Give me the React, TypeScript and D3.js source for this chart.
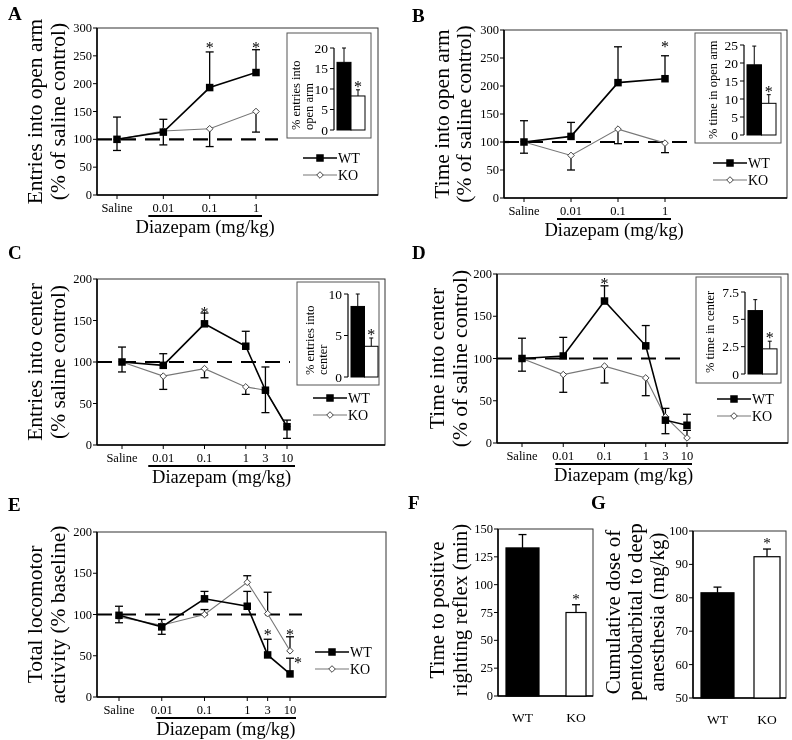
import React from "react";
import * as d3 from "d3";

const FONT = "Liberation Serif, DejaVu Serif, Times New Roman, serif";

// doses (Saline plotted at 0.001 on a log axis)
const dosesShort = [0.001, 0.01, 0.1, 1];
const doseLabelsShort = ["Saline", "0.01", "0.1", "1"];
const dosesLong = [0.001, 0.01, 0.1, 1, 3, 10];
const doseLabelsLong = ["Saline", "0.01", "0.1", "1", "3", "10"];

// Panel A
const aWT = [100, 113, 193, 220];
const aWTUp = [40, 23, 64, 41];
const aWTDown = [0, 0, 0, 0];
const aKO = [100, 115, 119, 150];
const aKOUp = [0, 0, 0, 0];
const aKODown = [20, 25, 32, 37];
const aStars = [{ dose: 0.1, value: 272 }, { dose: 1, value: 272 }];
const aInset = [16.5, 8.3];
const aInsetErr = [3.5, 1.5];
const aInsetTicks = [0, 5, 10, 15, 20];

// Panel B
const bWT = [100, 110, 206, 213];
const bWTUp = [38, 25, 64, 41];
const bWTDown = [0, 0, 0, 0];
const bKO = [100, 76, 123, 98];
const bKOUp = [0, 0, 0, 0];
const bKODown = [20, 26, 26, 17];
const bStars = [{ dose: 1, value: 277 }];
const bInset = [19.5, 8.8];
const bInsetErr = [5.2, 2.4];
const bInsetTicks = [0, 5, 10, 15, 20, 25];

// Panel C
const cWT = [100, 96, 146, 119, 66, 22];
const cWTUp = [18, 14, 13, 18, 28, 8];
const cWTDown = [0, 0, 0, 0, 27, 14];
const cKO = [100, 83, 92, 70, 66, 22];
const cKOUp = [0, 0, 0, 0, 0, 0];
const cKODown = [12, 16, 11, 9, 0, 0];
const cStars = [{ dose: 0.1, value: 164 }];
const cInset = [8.5, 3.7];
const cInsetErr = [1.5, 1.0];
const cInsetTicks = [0, 5, 10];

// Panel D
const dWT = [100, 103, 168, 115, 27, 21];
const dWTUp = [24, 22, 18, 24, 14, 13];
const dWTDown = [0, 0, 0, 0, 16, 0];
const dKO = [100, 81, 91, 77, 31, 6];
const dKOUp = [0, 0, 0, 0, 0, 9];
const dKODown = [15, 21, 20, 21, 0, 0];
const dStars = [{ dose: 0.1, value: 193 }];
const dInset = [5.8, 2.3];
const dInsetErr = [1.0, 0.7];
const dInsetTicks = [0, 2.5, 5, 7.5];

// Panel E
const eWT = [99, 85, 119, 110, 51, 28];
const eWTUp = [11, 0, 9, 18, 19, 19];
const eWTDown = [0, 9, 0, 0, 0, 0];
const eKO = [97, 87, 100, 139, 101, 56];
const eKOUp = [0, 7, 6, 8, 26, 17];
const eKODown = [7, 0, 0, 0, 0, 0];
const eStars = [
  { dose: 3, value: 80, dx: 0 },
  { dose: 10, value: 80, dx: 0 },
  { dose: 10, value: 46, dx: 8 },
];

// Panel F and G
const groups = ["WT", "KO"];
const fValues = [133, 75];
const fErr = [12, 7];
const fTicks = [0, 25, 50, 75, 100, 125, 150];
const gValues = [81.5, 92.3];
const gErr = [1.7, 2.3];
const gTicks = [50, 60, 70, 80, 90, 100];

type Star = { dose: number; value: number; dx?: number };

function Square({ cx, cy, s }: { cx: number; cy: number; s: number }) {
  return <rect x={cx - s / 2} y={cy - s / 2} width={s} height={s} fill="#000" />;
}
function Diamond({ cx, cy, r }: { cx: number; cy: number; r: number }) {
  return (
    <path
      d={`M${cx},${cy - r}L${cx + r},${cy}L${cx},${cy + r}L${cx - r},${cy}Z`}
      fill="#fff"
      stroke="#444"
      strokeWidth={1}
    />
  );
}

function ErrBars({ xs, ys, vals, up, down, y }: any) {
  const out: any[] = [];
  vals.forEach((v: number, i: number) => {
    const cx = xs[i];
    if (up[i] > 0) {
      const y2 = y(v + up[i]);
      out.push(<line key={"u" + i} x1={cx} x2={cx} y1={ys[i]} y2={y2} stroke="#000" strokeWidth={1.3} />);
      out.push(<line key={"uc" + i} x1={cx - 4} x2={cx + 4} y1={y2} y2={y2} stroke="#000" strokeWidth={1.3} />);
    }
    if (down[i] > 0) {
      const y2 = y(v - down[i]);
      out.push(<line key={"d" + i} x1={cx} x2={cx} y1={ys[i]} y2={y2} stroke="#000" strokeWidth={1.3} />);
      out.push(<line key={"dc" + i} x1={cx - 4} x2={cx + 4} y1={y2} y2={y2} stroke="#000" strokeWidth={1.3} />);
    }
  });
  return <g>{out}</g>;
}

function Inset(p: any) {
  const y = d3.scaleLinear().domain([0, p.max]).range([p.y0, p.y1]);
  const bw = p.bw;
  return (
    <g>
      <rect x={p.fx0} y={p.fy0} width={p.fx1 - p.fx0} height={p.fy1 - p.fy0} fill="#fff" stroke="#555" strokeWidth={1} />
      <line x1={p.ax} x2={p.ax} y1={y(0)} y2={y(p.max)} stroke="#000" strokeWidth={1.2} />
      {p.ticks.map((t: number) => (
        <g key={t}>
          <line x1={p.ax - 4} x2={p.ax} y1={y(t)} y2={y(t)} stroke="#000" strokeWidth={1} />
          <text x={p.ax - 6} y={y(t)} textAnchor="end" dominantBaseline="central" fontSize={13.5}>
            {t}
          </text>
        </g>
      ))}
      {p.values.map((v: number, i: number) => {
        const bx = p.ax + 3 + i * bw;
        const top = y(v);
        const et = y(v + p.err[i]);
        return (
          <g key={i}>
            <line x1={bx + bw / 2} x2={bx + bw / 2} y1={top} y2={et} stroke="#000" strokeWidth={1} />
            <line x1={bx + bw / 2 - 2} x2={bx + bw / 2 + 2} y1={et} y2={et} stroke="#000" strokeWidth={1} />
            <rect x={bx} y={top} width={bw} height={y(0) - top} fill={i === 0 ? "#000" : "#fff"} stroke="#000" strokeWidth={1} />
          </g>
        );
      })}
      <text x={p.ax + 3 + 1.5 * bw} y={y(p.values[1] + p.err[1]) + 2} textAnchor="middle" fontSize={16}>
        *
      </text>
      {p.title.map((t: string, i: number) => (
        <text
          key={i}
          transform={`translate(${p.tx + i * 12.5},${p.ty}) rotate(-90)`}
          textAnchor="start"
          dominantBaseline="central"
          fontSize={12.5}
        >
          {t}
        </text>
      ))}
    </g>
  );
}

function LinePanel(p: any) {
  const y = d3.scaleLinear().domain([0, p.yMax]).range([p.bottom, p.top]);
  const last = p.doses[p.doses.length - 1];
  const x = d3.scaleLog().domain([0.001, last]).range([p.salineX, p.lastX]);
  const yTicks = d3.range(0, p.yMax + 1, p.yStep);
  const xs = p.doses.map((d: number) => x(d));
  const wtY = p.wt.map((v: number) => y(v));
  const koY = p.ko.map((v: number) => y(v));
  const line = (vals: number[]) =>
    d3
      .line<number>()
      .x((_, i) => xs[i])
      .y((v) => y(v))(vals) as string;
  const ulStart = x(0.01) + p.ulOff[0];
  const ulEnd = x(last) + p.ulOff[1];
  return (
    <g>
      <text x={p.letterX} y={p.letterY} fontWeight="bold" fontSize={19}>
        {p.letter}
      </text>
      {p.titleLines.map((t: string, i: number) => (
        <text
          key={i}
          transform={`translate(${p.titleX[i]},${(p.top + p.bottom) / 2}) rotate(-90)`}
          textAnchor="middle"
          dominantBaseline="central"
          fontSize={21.5}
        >
          {t}
        </text>
      ))}
      <rect x={p.left} y={p.top} width={p.right - p.left} height={p.bottom - p.top} fill="none" stroke="#333" strokeWidth={1} />
      <line x1={p.left} x2={p.left} y1={p.top} y2={p.bottom} stroke="#000" strokeWidth={1.5} />
      <line x1={p.left} x2={p.right} y1={p.bottom} y2={p.bottom} stroke="#000" strokeWidth={1.5} />
      {yTicks.map((t: number) => (
        <g key={t}>
          <line x1={p.left - 4} x2={p.left} y1={y(t)} y2={y(t)} stroke="#000" strokeWidth={1} />
          <text x={p.left - 5} y={y(t)} textAnchor="end" dominantBaseline="central" fontSize={12.5}>
            {t}
          </text>
        </g>
      ))}
      {p.doses.map((d: number, i: number) => (
        <g key={i}>
          <line x1={x(d)} x2={x(d)} y1={p.bottom} y2={p.bottom + 4} stroke="#000" strokeWidth={1} />
          <text x={x(d)} y={p.bottom + 17} textAnchor="middle" fontSize={12.5}>
            {p.labels[i]}
          </text>
        </g>
      ))}
      <line x1={ulStart} x2={ulEnd} y1={p.bottom + 21} y2={p.bottom + 21} stroke="#000" strokeWidth={2.2} />
      <text x={(ulStart + ulEnd) / 2} y={p.bottom + 38} textAnchor="middle" fontSize={18.5}>
        Diazepam (mg/kg)
      </text>
      <line x1={p.left} x2={p.dashEnd} y1={y(100)} y2={y(100)} stroke="#000" strokeWidth={2.2} strokeDasharray="15,9" />
      <ErrBars xs={xs} ys={koY} vals={p.ko} up={p.koUp} down={p.koDown} y={y} />
      <ErrBars xs={xs} ys={wtY} vals={p.wt} up={p.wtUp} down={p.wtDown} y={y} />
      <path d={line(p.ko)} fill="none" stroke="#777" strokeWidth={1.1} />
      <path d={line(p.wt)} fill="none" stroke="#000" strokeWidth={1.6} />
      {p.ko.map((v: number, i: number) => (
        <Diamond key={i} cx={xs[i]} cy={koY[i]} r={3.3} />
      ))}
      {p.wt.map((v: number, i: number) => (
        <Square key={i} cx={xs[i]} cy={wtY[i]} s={7.5} />
      ))}
      {p.stars.map((s: Star, i: number) => (
        <text key={i} x={x(s.dose) + (s.dx || 0)} y={y(s.value) + 9} textAnchor="middle" fontSize={16}>
          *
        </text>
      ))}
      <g>
        <line x1={p.legX} x2={p.legX + 34} y1={p.legY} y2={p.legY} stroke="#000" strokeWidth={1.6} />
        <Square cx={p.legX + 17} cy={p.legY} s={7.5} />
        <text x={p.legX + 35} y={p.legY} dominantBaseline="central" fontSize={14}>
          WT
        </text>
        <line x1={p.legX} x2={p.legX + 34} y1={p.legY + 17} y2={p.legY + 17} stroke="#777" strokeWidth={1.1} />
        <Diamond cx={p.legX + 17} cy={p.legY + 17} r={3.3} />
        <text x={p.legX + 35} y={p.legY + 17} dominantBaseline="central" fontSize={14}>
          KO
        </text>
      </g>
      {p.inset && <Inset {...p.inset} />}
    </g>
  );
}

function BarPanel(p: any) {
  const y = d3.scaleLinear().domain([p.yMin, p.yMax]).range([p.bottom, p.top]);
  return (
    <g>
      <text x={p.letterX} y={p.letterY} fontWeight="bold" fontSize={19}>
        {p.letter}
      </text>
      {p.titleLines.map((t: string, i: number) => (
        <text
          key={i}
          transform={`translate(${p.titleX[i]},${p.titleY}) rotate(-90)`}
          textAnchor="middle"
          dominantBaseline="central"
          fontSize={21}
        >
          {t}
        </text>
      ))}
      <rect x={p.left} y={p.top} width={p.right - p.left} height={p.bottom - p.top} fill="none" stroke="#333" strokeWidth={1} />
      <line x1={p.left} x2={p.left} y1={p.top} y2={p.bottom} stroke="#000" strokeWidth={1.5} />
      <line x1={p.left} x2={p.right} y1={p.bottom} y2={p.bottom} stroke="#000" strokeWidth={1.5} />
      {p.ticks.map((t: number) => (
        <g key={t}>
          <line x1={p.left - 4} x2={p.left} y1={y(t)} y2={y(t)} stroke="#000" strokeWidth={1} />
          <text x={p.left - 5} y={y(t)} textAnchor="end" dominantBaseline="central" fontSize={12.5}>
            {t}
          </text>
        </g>
      ))}
      {p.values.map((v: number, i: number) => {
        const [bx0, bx1] = p.bars[i];
        const cx = (bx0 + bx1) / 2;
        const et = y(v + p.err[i]);
        return (
          <g key={i}>
            <line x1={cx} x2={cx} y1={y(v)} y2={et} stroke="#000" strokeWidth={1.3} />
            <line x1={cx - 4} x2={cx + 4} y1={et} y2={et} stroke="#000" strokeWidth={1.3} />
            <rect x={bx0} y={y(v)} width={bx1 - bx0} height={p.bottom - y(v)} fill={i === 0 ? "#000" : "#fff"} stroke="#000" strokeWidth={1.2} />
            <text x={cx} y={p.bottom + 26} textAnchor="middle" fontSize={13.5}>
              {groups[i]}
            </text>
          </g>
        );
      })}
      <text x={(p.bars[1][0] + p.bars[1][1]) / 2} y={y(p.values[1] + p.err[1]) - 1} textAnchor="middle" fontSize={15}>
        *
      </text>
    </g>
  );
}

export default function App() {
  return (
    <svg
      width={792}
      height={740}
      fontFamily={FONT}
      style={{ position: "absolute", left: 0, top: 0, fontFamily: FONT, willChange: "transform" }}
    >
      <rect width={792} height={740} fill="#fff" />
      <LinePanel
        letter="A" letterX={8} letterY={20}
        left={97} right={378} top={28} bottom={195}
        yMax={300} yStep={50}
        doses={dosesShort} labels={doseLabelsShort} salineX={117} lastX={256}
        wt={aWT} wtUp={aWTUp} wtDown={aWTDown} ko={aKO} koUp={aKOUp} koDown={aKODown}
        stars={aStars} dashEnd={278} ulOff={[-15, 6]}
        titleLines={["Entries into open arm", "(% of saline control)"]} titleX={[35, 58]}
        legX={303} legY={158}
        inset={{ fx0: 287, fx1: 371, fy0: 33, fy1: 138, ax: 334, y0: 130, y1: 48, max: 20, bw: 14,
          values: aInset, err: aInsetErr, ticks: aInsetTicks, title: ["% entries into", "open arm"], tx: 296, ty: 130 }}
      />
      <LinePanel
        letter="B" letterX={412} letterY={22}
        left={504} right={787} top={30} bottom={198}
        yMax={300} yStep={50}
        doses={dosesShort} labels={doseLabelsShort} salineX={524} lastX={665}
        wt={bWT} wtUp={bWTUp} wtDown={bWTDown} ko={bKO} koUp={bKOUp} koDown={bKODown}
        stars={bStars} dashEnd={687} ulOff={[-14, 6]}
        titleLines={["Time into open arm", "(% of saline control)"]} titleX={[442, 464]}
        legX={713} legY={163}
        inset={{ fx0: 695, fx1: 781, fy0: 33, fy1: 143, ax: 744, y0: 135, y1: 45, max: 25, bw: 14.5,
          values: bInset, err: bInsetErr, ticks: bInsetTicks, title: ["% time in open arm"], tx: 713, ty: 139 }}
      />
      <LinePanel
        letter="C" letterX={8} letterY={259}
        left={97} right={385} top={279} bottom={445}
        yMax={200} yStep={50}
        doses={dosesLong} labels={doseLabelsLong} salineX={122} lastX={287}
        wt={cWT} wtUp={cWTUp} wtDown={cWTDown} ko={cKO} koUp={cKOUp} koDown={cKODown}
        stars={cStars} dashEnd={290} ulOff={[-15, 8]}
        titleLines={["Entries into center", "(% saline control)"]} titleX={[35, 58]}
        legX={313} legY={398}
        inset={{ fx0: 297, fx1: 379, fy0: 282, fy1: 385, ax: 348, y0: 377, y1: 294, max: 10, bw: 13.5,
          values: cInset, err: cInsetErr, ticks: cInsetTicks, title: ["% entries into", "center"], tx: 310, ty: 375 }}
      />
      <LinePanel
        letter="D" letterX={412} letterY={259}
        left={497} right={788} top={274} bottom={443}
        yMax={200} yStep={50}
        doses={dosesLong} labels={doseLabelsLong} salineX={522} lastX={687}
        wt={dWT} wtUp={dWTUp} wtDown={dWTDown} ko={dKO} koUp={dKOUp} koDown={dKODown}
        stars={dStars} dashEnd={680} ulOff={[-8, 5]}
        titleLines={["Time into center", "(% of saline control)"]} titleX={[437, 460]}
        legX={717} legY={399}
        inset={{ fx0: 696, fx1: 781, fy0: 277, fy1: 383, ax: 745, y0: 374, y1: 292, max: 7.5, bw: 14.5,
          values: dInset, err: dInsetErr, ticks: dInsetTicks, title: ["% time in center"], tx: 710, ty: 373 }}
      />
      <LinePanel
        letter="E" letterX={8} letterY={511}
        left={97} right={386} top={532} bottom={697}
        yMax={200} yStep={50}
        doses={dosesLong} labels={doseLabelsLong} salineX={119} lastX={290}
        wt={eWT} wtUp={eWTUp} wtDown={eWTDown} ko={eKO} koUp={eKOUp} koDown={eKODown}
        stars={eStars} dashEnd={302} ulOff={[-6, 6]}
        titleLines={["Total locomotor", "activity (% baseline)"]} titleX={[35, 58]}
        legX={315} legY={652}
      />
      <BarPanel
        letter="F" letterX={408} letterY={509}
        left={498} right={593} top={529} bottom={696}
        yMin={0} yMax={150} ticks={fTicks}
        values={fValues} err={fErr} bars={[[506, 539], [566, 586]]}
        titleLines={["Time to positive", "righting reflex (min)"]} titleX={[437, 460]} titleY={610}
      />
      <BarPanel
        letter="G" letterX={591} letterY={509}
        left={693} right={786} top={531} bottom={698}
        yMin={50} yMax={100} ticks={gTicks}
        values={gValues} err={gErr} bars={[[701, 734], [754, 780]]}
        titleLines={["Cumulative dose of", "pentobarbital to deep", "anesthesia (mg/kg)"]} titleX={[613, 635, 657]} titleY={612}
      />
    </svg>
  );
}
